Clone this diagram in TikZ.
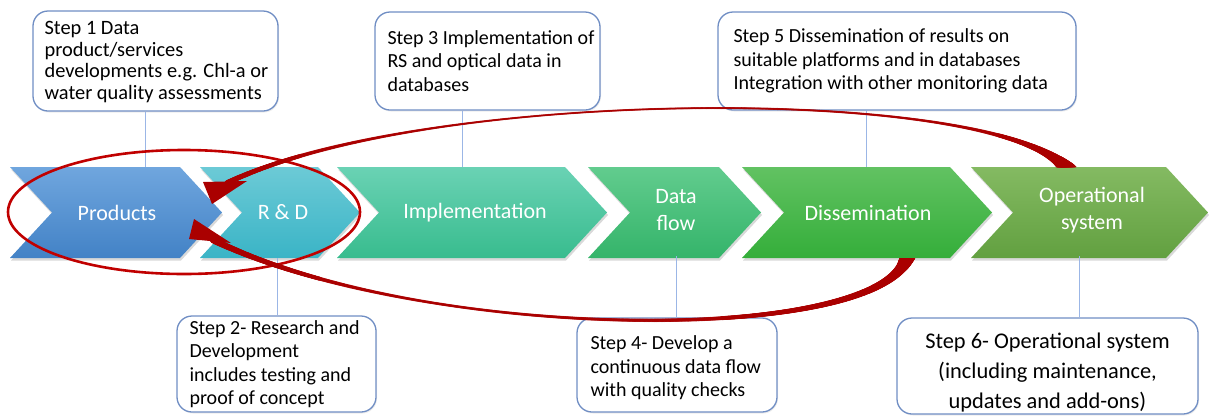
\documentclass[tikz,border=0pt]{standalone}
\usepackage{fontspec}
\setmainfont{Carlito}
\usetikzlibrary{decorations.markings,shadows}
\definecolor{boxblue}{RGB}{112,142,196}
\definecolor{conblue}{RGB}{155,182,230}
\definecolor{ellred}{RGB}{192,0,0}
\definecolor{arrred}{RGB}{170,0,0}
\definecolor{prodT}{RGB}{112,166,222}
\definecolor{prodB}{RGB}{66,130,198}
\definecolor{rdT}{RGB}{108,202,214}
\definecolor{rdB}{RGB}{58,180,198}
\definecolor{impT}{RGB}{106,210,180}
\definecolor{impB}{RGB}{56,188,142}
\definecolor{datT}{RGB}{98,204,142}
\definecolor{datB}{RGB}{52,180,106}
\definecolor{disT}{RGB}{98,194,98}
\definecolor{disB}{RGB}{52,174,58}
\definecolor{opT}{RGB}{132,186,98}
\definecolor{opB}{RGB}{98,160,64}
\newcommand\mychev[4]{\path[top color=#3,bottom color=#4,drop shadow={shadow xshift=1pt,shadow yshift=-2.5pt,opacity=0.3}] (#1,167) -- (#2,167) -- ({#2+42},212.5) -- (#2,258) -- (#1,258) -- ({#1+42},212.5) -- cycle;}
\tikzset{
  stepbox/.style={draw=boxblue,line width=1.3pt,fill=white,rounded corners=15pt,inner sep=0pt,
    drop shadow={shadow xshift=1pt,shadow yshift=-1.5pt,opacity=0.15}},
  boxtext/.style={font=\fontsize{20}{23.5}\selectfont,align=left,inner sep=0pt,anchor=west},
  chevtext/.style={text=white,font=\fontsize{22}{27}\selectfont,align=center,inner sep=0pt,minimum height=91pt},
  conn/.style={draw=conblue,line width=1pt},
  taperone/.style={postaction={decorate,decoration={markings,
    mark=between positions 0 and 1 step 0.6pt with {%
      \pgfmathsetmacro\tpf{\pgfkeysvalueof{/pgf/decoration/mark info/distance from start}/\pgfdecoratedpathlength}%
      \pgfmathsetmacro\tpm{max(0,(\tpf-0.6)/0.4)}%
      \pgfmathsetmacro\tpw{2+10*exp(max(-9,-\tpf/0.02))+6*exp(max(-9,-\tpf/0.08))+4*\tpm*\tpm}%
      \fill[arrred] (0,0) circle[radius=\tpw*0.5pt];}}}},
  tapertwo/.style={postaction={decorate,decoration={markings,
    mark=between positions 0 and 1 step 0.6pt with {%
      \pgfmathsetmacro\tpf{\pgfkeysvalueof{/pgf/decoration/mark info/distance from start}/\pgfdecoratedpathlength}%
      \pgfmathsetmacro\tpm{max(0,(\tpf-0.6)/0.4)}%
      \pgfmathsetmacro\tpw{2.5+10*exp(max(-9,-\tpf/0.02))+6*exp(max(-9,-\tpf/0.2))+4.5*\tpm*\tpm}%
      \fill[arrred] (0,0) circle[radius=\tpw*0.5pt];}}}},
}
\begin{document}
\begin{tikzpicture}[x=1pt,y=-1pt]
\useasboundingbox (0,0) rectangle (1209,416);
\mychev{10}{180}{prodT}{prodB}
\mychev{200}{318}{rdT}{rdB}
\mychev{337}{565}{impT}{impB}
\mychev{588}{719}{datT}{datB}
\mychev{742}{950}{disT}{disB}
\mychev{971}{1166}{opT}{opB}
\node[chevtext] (prod) at (117,212.5) {Products};
\node[chevtext] (rd) at (283,212.5) {R \& D};
\node[chevtext] (impl) at (475,212.5) {Implementation};
\node[chevtext] (data) at (676,210.5) {Data\\flow};
\node[chevtext] (diss) at (868,212.5) {Dissemination};
\node[chevtext] (oper) at (1092,210.5) {Operational\\system};
\node[stepbox,minimum width=245pt,minimum height=100pt] (b1) at (155.5,61) {};
\node[stepbox,minimum width=225pt,minimum height=98pt] (b3) at (487.5,61) {};
\node[stepbox,minimum width=358pt,minimum height=98pt] (b5) at (897,61) {};
\node[stepbox,minimum width=199pt,minimum height=96pt] (b2) at (276.5,364) {};
\node[stepbox,minimum width=200pt,minimum height=94pt] (b4) at (677,365) {};
\node[stepbox,minimum width=301pt,minimum height=96pt] (b6) at (1047.5,366) {};
\node[boxtext,font=\fontsize{20.4}{21.5}\selectfont] (t1) at ([xshift=12pt,yshift=-1pt]b1.west) {Step 1 Data\\product/services\\developments e.g. Chl-a or\\water quality assessments};
\node[boxtext] (t3) at ([xshift=13pt]b3.west) {Step 3 Implementation of\\RS and optical data in\\databases};
\node[boxtext] (t5) at ([xshift=16pt]b5.west) {Step 5 Dissemination of results on\\suitable platforms and in databases\\Integration with other monitoring data};
\node[boxtext] (t2) at ([xshift=13pt]b2.west) {Step 2- Research and\\Development\\includes testing and\\proof of concept};
\node[boxtext] (t4) at ([xshift=14pt,yshift=-3pt]b4.west) {Step 4- Develop a\\continuous data flow\\with quality checks};
\node[font=\fontsize{22.4}{30}\selectfont,align=center,inner sep=0pt] (t6) at (1047.5,373) {Step 6- Operational system\\(including maintenance,\\updates and add-ons)};
\coordinate (k1) at (145,0);
\coordinate (k3) at (462,0);
\coordinate (k5) at (866,0);
\coordinate (k2) at (277,0);
\coordinate (k4) at (676,0);
\coordinate (k6) at (1079,0);
\draw[conn] (b1.south -| k1) -- (prod.north -| k1);
\draw[conn] (b3.south -| k3) -- (impl.north -| k3);
\draw[conn] (b5.south -| k5) -- (diss.north -| k5);
\draw[conn] (rd.south -| k2) -- (b2.north -| k2);
\draw[conn] (data.south -| k4) -- (b4.north -| k4);
\draw[conn] (oper.south -| k6) -- (b6.north -| k6);
\draw[ellred,line width=2.6pt] (184,212) ellipse[x radius=176,y radius=62];
\begin{scope}
\clip (0,0) rectangle (960,416) (960,0) rectangle (1209,167);
\path[taperone] (1069,172) .. controls (1010,85) and (430,85) .. (227,183);
\fill[arrred] (203,182) -- (247,181) -- (212,204) -- cycle;
\end{scope}
\begin{scope}
\clip (0,258) rectangle (1209,416) (0,0) rectangle (740,416);
\path[tapertwo] (908,252) .. controls (897,345) and (430,345) .. (213,240);
\fill[arrred] (194,219) -- (189,239) -- (231,243) -- cycle;
\end{scope}
\end{tikzpicture}
\end{document}
